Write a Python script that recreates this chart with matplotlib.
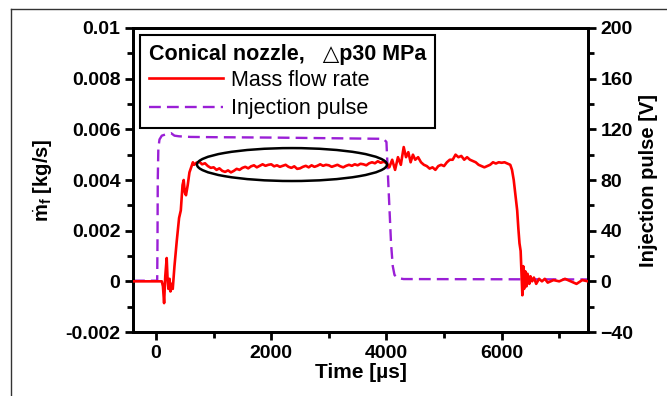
import matplotlib
matplotlib.use('Agg')
import matplotlib.pyplot as plt
from matplotlib.patches import Ellipse
from matplotlib.lines import Line2D
from matplotlib.ticker import MultipleLocator

plt.rcParams['font.family'] = ['Liberation Sans', 'DejaVu Sans']
plt.rcParams['mathtext.fontset'] = 'custom'
plt.rcParams['mathtext.rm'] = 'Liberation Sans'
plt.rcParams['mathtext.bf'] = 'Liberation Sans:bold'

# Mass flow rate [kg/s] vs time [us]
flow_t = [-400, 0, 100, 120, 140, 160, 185, 200, 215, 235, 250, 270, 290, 320, 360,
          400, 430, 460, 480, 500, 520, 550, 580, 610, 640, 660, 700,
          750, 800, 850, 900, 950, 1000, 1050, 1100, 1150, 1200, 1250, 1300, 1350,
          1400, 1450, 1500, 1550, 1600, 1650, 1700, 1750, 1800, 1850, 1900, 1950,
          2000, 2050, 2100, 2150, 2200, 2250, 2300, 2350, 2400, 2450, 2500, 2550,
          2600, 2650, 2700, 2750, 2800, 2850, 2900, 2950, 3000, 3050, 3100, 3150,
          3200, 3250, 3300, 3350, 3400, 3450, 3500, 3550, 3600, 3650, 3700, 3750,
          3800, 3850, 3900, 3950, 4000,
          4050, 4100, 4150, 4200, 4250, 4300, 4340, 4380, 4420, 4460, 4500, 4550,
          4600, 4650, 4700, 4750, 4800, 4850, 4900, 4950, 5000, 5050, 5100, 5150,
          5200, 5250, 5300, 5350, 5400, 5450, 5500, 5550, 5600, 5650, 5700, 5750,
          5800, 5850, 5900, 5950, 6000, 6050, 6100, 6150, 6180, 6210, 6240, 6270,
          6290, 6310, 6330, 6345, 6360, 6375, 6390, 6410, 6430, 6450, 6480, 6500,
          6530, 6560, 6600, 6650, 6700, 6750, 6800, 6900, 7000, 7100, 7200, 7300,
          7400, 7500]
flow_m = [0.0, 0.0, 0.0, -0.0002, -0.00086, 0.0002, 0.00092, 0.0001, -0.0003, 0.0001,
          -0.0004, -0.0001, -0.0003, 0.0006, 0.0016,
          0.0025, 0.0028, 0.0038, 0.0040, 0.0035, 0.0034, 0.0038, 0.0043, 0.0045,
          0.0047, 0.0046, 0.00468,
          0.00472, 0.00462, 0.00466, 0.00455, 0.00448, 0.0045, 0.0044, 0.00446,
          0.00436, 0.00432, 0.00438, 0.0043, 0.00436,
          0.00444, 0.0044, 0.00448, 0.00452, 0.00446, 0.00454, 0.00458, 0.0045,
          0.00456, 0.00462, 0.00456, 0.0046,
          0.00462, 0.00454, 0.00458, 0.00452, 0.00456, 0.0046, 0.00452, 0.00448,
          0.00454, 0.00444, 0.00446, 0.00452,
          0.00456, 0.0045, 0.00458, 0.00452, 0.00456, 0.00462, 0.00456, 0.0046,
          0.00458, 0.00452, 0.00456, 0.0046,
          0.00454, 0.0045, 0.00456, 0.0046, 0.00456, 0.00462, 0.00458, 0.00464,
          0.00462, 0.00458, 0.00466, 0.0047,
          0.00466, 0.00474, 0.00468, 0.00472, 0.00467,
          0.0045, 0.0048, 0.0044, 0.0049, 0.0046, 0.0053, 0.0049, 0.0051, 0.0047,
          0.0050, 0.0048, 0.0049,
          0.0047, 0.0046, 0.00455, 0.00445, 0.0045, 0.0044, 0.00455, 0.0046,
          0.00455, 0.0047, 0.0048, 0.0048,
          0.0050, 0.0049, 0.00495, 0.0048, 0.0049, 0.0048, 0.00475, 0.0047, 0.0046,
          0.00455, 0.0045, 0.00455,
          0.0046, 0.0047, 0.00465, 0.0047, 0.00468, 0.0047, 0.00465, 0.0046,
          0.0044, 0.0040, 0.0034, 0.0028,
          0.0021, 0.0015, 0.0012, 0.0003, -0.00055, 0.0006, -0.0003, 0.0004,
          -0.0002, 0.0003, -0.0001, 0.0002,
          0.0, 0.00015, -0.0001, 0.0001, 0.0, 0.0001, -0.00005, 0.00005, 0.0,
          0.0001, 0.0, -0.0001,
          0.00005, 0.0]

# Injection pulse [V] vs time [us]
pulse_t = [-400, 20, 25, 30, 40, 60, 100, 200, 260, 320, 400, 600, 1000, 2000,
           3000, 3950, 4000, 4020, 4050, 4080, 4110, 4140, 4200, 4300, 7500]
pulse_v = [0.5, 0.5, 30, 80, 105, 112, 115, 116.5, 117, 115, 114.5, 114, 113.8,
           113.5, 113, 112.5, 110, 90, 60, 30, 12, 5, 2.5, 1.8, 1.5]

RED = '#ff0000'
PURPLE = '#9a1fd6'
DASH = (0, (5, 2.6))

fig = plt.figure(figsize=(6.67, 3.96), dpi=100)
ax = fig.add_axes([0.1994, 0.1616, 0.6822, 0.7677])
ax2 = ax.twinx()

ax2.plot(pulse_t, pulse_v, color=PURPLE, lw=1.7, ls=DASH, zorder=1)
ax.set_zorder(ax2.get_zorder() + 1)
ax.patch.set_visible(False)
ax.plot(flow_t, flow_m, color=RED, lw=1.9, zorder=3)

ax.add_patch(Ellipse((2360, 0.00461), 3300, 0.0013, fill=False,
                     edgecolor='black', lw=1.8, zorder=4))

ax.set_xlim(-400, 7500)
ax.set_ylim(-0.002, 0.01)
ax2.set_ylim(-40, 200)
ax.xaxis.set_major_locator(MultipleLocator(2000))
ax.xaxis.set_minor_locator(MultipleLocator(1000))
ax.yaxis.set_minor_locator(MultipleLocator(0.001))
ax2.yaxis.set_major_locator(MultipleLocator(40))
ax2.yaxis.set_minor_locator(MultipleLocator(20))
ax.set_yticks([-0.002, 0, 0.002, 0.004, 0.006, 0.008, 0.01])
ax.set_yticklabels(['-0.002', '0', '0.002', '0.004', '0.006', '0.008', '0.01'])

for a in (ax, ax2):
    for s in a.spines.values():
        s.set_linewidth(2)
    a.tick_params(which='major', length=6, width=2, labelsize=14, direction='out', pad=3)
    a.tick_params(which='minor', length=4, width=2, direction='out')
    for lab in a.get_xticklabels() + a.get_yticklabels():
        lab.set_fontweight('bold')

ax.set_xlabel('Time [\u00b5s]', fontsize=15, fontweight='bold', labelpad=1)
ax.set_ylabel(r'$\dot{\mathbf{m}}_{\mathbf{f}}$ [kg/s]', fontsize=14.5,
              fontweight='bold', labelpad=8)
ax2.set_ylabel('Injection pulse [V]', fontsize=14.5, fontweight='bold', labelpad=4)

handles = [Line2D([], [], color=RED, lw=1.9),
           Line2D([], [], color=PURPLE, lw=1.7, ls=DASH)]
leg = ax.legend(handles, ['Mass flow rate', 'Injection pulse'],
                title='Conical nozzle,   \u25b3p30 MPa',
                title_fontproperties={'weight': 'bold', 'size': 15.5,
                                      'family': ['Liberation Sans', 'DejaVu Sans']},
                loc='upper left', bbox_to_anchor=(0.0154, 0.977), alignment='left',
                borderaxespad=0, fontsize=15.5, handlelength=3.45,
                handletextpad=0.35, labelspacing=0.34, borderpad=0.42,
                fancybox=False, framealpha=1, edgecolor='black')
leg.get_frame().set_linewidth(1.5)
leg._legend_box.sep = 3.5
leg.set_zorder(10)

# figure frame lines
fig.add_artist(Line2D([11 / 667, 11 / 667], [0, 1 - 9 / 396], color='#333333', lw=1))
fig.add_artist(Line2D([11 / 667, 1], [1 - 9 / 396, 1 - 9 / 396], color='#333333', lw=1))

fig.savefig('out.png', dpi=100)
